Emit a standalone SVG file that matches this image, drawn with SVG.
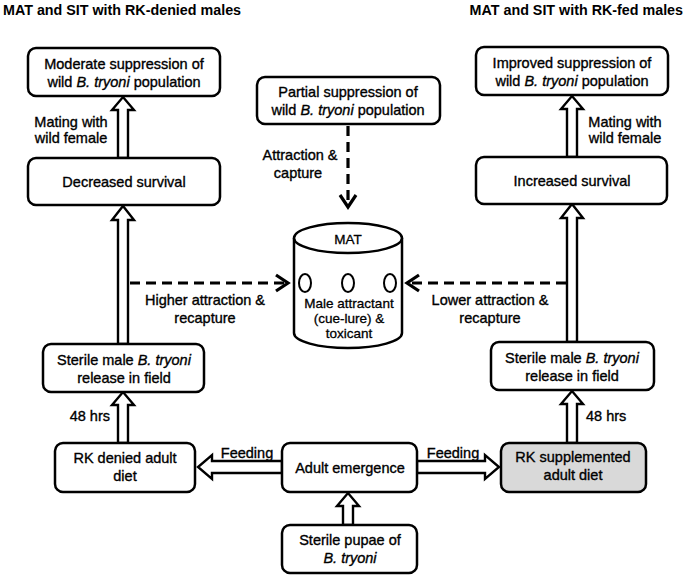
<svg xmlns="http://www.w3.org/2000/svg" width="685" height="576" viewBox="0 0 685 576">
<defs>
<style>
text{font-family:"Liberation Sans",Arial,sans-serif;fill:#000}
.t{font-size:14.5px;text-anchor:middle;stroke:#000;stroke-width:0.35}
.s{font-size:13.5px;text-anchor:middle;stroke:#000;stroke-width:0.3}
.h{font-size:14.3px;font-weight:bold}
.box{fill:#fff;stroke:#000;stroke-width:2.5}
.grey{fill:#d9d9d9}
.blk{fill:#fff;stroke:#000;stroke-width:2.4;stroke-linejoin:miter}
.dash{fill:none;stroke:#000;stroke-width:3.2;stroke-dasharray:10 6}
.chev{fill:none;stroke:#000;stroke-width:3.2;stroke-linejoin:miter}
</style>
</defs>
<rect width="685" height="576" fill="#fff"/>
<text class="h" x="3" y="15">MAT and SIT with RK-denied males</text>
<text class="h" x="683" y="15" text-anchor="end">MAT and SIT with RK-fed males</text>

<g id="connectors">
<polygon class="blk" points="118,158 118,110 112,110 123,97 134,110 128,110 128,158"/>
<polygon class="blk" points="118,344 118,220 112,220 123,206 134,220 128,220 128,344"/>
<polygon class="blk" points="118,443 118,405 112,405 123,392 134,405 128,405 128,443"/>
<polygon class="blk" points="567,157 567,109 561,109 572,96 583,109 577,109 577,157"/>
<polygon class="blk" points="567,342 567,218 561,218 572,204 583,218 577,218 577,342"/>
<polygon class="blk" points="567,443 567,404 561,404 572,391 583,404 577,404 577,443"/>
<polygon class="blk" points="343,525 343,506 337,506 348,493 359,506 353,506 353,525"/>
<polygon class="blk" points="282,461 212,461 212,455 198,467 212,479 212,473 282,473"/>
<polygon class="blk" points="417,461 485,461 485,455 499,467 485,479 485,473 417,473"/>
<line class="dash" x1="348" y1="126" x2="348" y2="205"/>
<polyline class="chev" points="340,195 348,207 356,195"/>
<line class="dash" x1="130" y1="283" x2="285" y2="283"/>
<polyline class="chev" points="276,275 288,283 276,291"/>
<line class="dash" x1="566" y1="283" x2="410" y2="283"/>
<polyline class="chev" points="419,275 407,283 419,291"/>
</g>

<g id="moderate"><rect class="box" x="28" y="48" width="192" height="48" rx="8"/>
<text class="t" x="124" y="69">Moderate suppression of</text>
<text class="t" x="124" y="87">wild <tspan font-style="italic">B. tryoni</tspan> population</text></g>

<g id="partial"><rect class="box" x="257" y="77" width="183" height="47" rx="8"/>
<text class="t" x="348" y="97">Partial suppression of</text>
<text class="t" x="348" y="115">wild <tspan font-style="italic">B. tryoni</tspan> population</text></g>

<g id="improved"><rect class="box" x="476" y="47" width="192" height="48" rx="8"/>
<text class="t" x="572" y="68">Improved suppression of</text>
<text class="t" x="572" y="86">wild <tspan font-style="italic">B. tryoni</tspan> population</text></g>

<g id="decreased"><rect class="box" x="28" y="158" width="192" height="47" rx="8"/>
<text class="t" x="124" y="187">Decreased survival</text></g>

<g id="increased"><rect class="box" x="476" y="157" width="191" height="47" rx="8"/>
<text class="t" x="572" y="186">Increased survival</text></g>

<g id="mat">
<path class="box" d="M294,238 L294,333 A54,15 0 0 0 402,333 L402,238"/>
<ellipse class="box" cx="348" cy="238" rx="54" ry="15"/>
<text class="s" x="348" y="244">MAT</text>
<ellipse fill="#fff" stroke="#000" stroke-width="2" cx="305" cy="283" rx="6" ry="9"/>
<ellipse fill="#fff" stroke="#000" stroke-width="2" cx="348" cy="283" rx="6" ry="9"/>
<ellipse fill="#fff" stroke="#000" stroke-width="2" cx="390" cy="283" rx="6" ry="9"/>
<text class="s" x="349" y="308">Male attractant</text>
<text class="s" x="349" y="323">(cue-lure) &amp;</text>
<text class="s" x="349" y="338">toxicant</text>
</g>

<g id="sterile-left"><rect class="box" x="43" y="344" width="161" height="48" rx="8"/>
<text class="t" x="124" y="365">Sterile male <tspan font-style="italic">B. tryoni</tspan></text>
<text class="t" x="124" y="383">release in field</text></g>

<g id="sterile-right"><rect class="box" x="491" y="342" width="163" height="48" rx="8"/>
<text class="t" x="572" y="363">Sterile male <tspan font-style="italic">B. tryoni</tspan></text>
<text class="t" x="572" y="381">release in field</text></g>

<g id="rk-denied"><rect class="box" x="55" y="443" width="140" height="49" rx="8"/>
<text class="t" x="125" y="463">RK denied adult</text>
<text class="t" x="125" y="481">diet</text></g>

<g id="adult"><rect class="box" x="282" y="443" width="135" height="49" rx="8"/>
<text class="t" x="350" y="473">Adult emergence</text></g>

<g id="rk-supp"><rect class="box grey" x="501" y="443" width="145" height="49" rx="8"/>
<text class="t" x="573" y="462">RK supplemented</text>
<text class="t" x="573" y="480">adult diet</text></g>

<g id="pupae"><rect class="box" x="282" y="525" width="135" height="48" rx="8"/>
<text class="t" x="350" y="545">Sterile pupae of</text>
<text class="t" x="350" y="563" font-style="italic">B. tryoni</text></g>

<g id="labels">
<text class="t" x="71" y="127">Mating with</text>
<text class="t" x="71" y="143">wild female</text>
<text class="t" x="625" y="127">Mating with</text>
<text class="t" x="625" y="143">wild female</text>
<text class="t" x="300" y="160">Attraction &amp;</text>
<text class="t" x="298" y="178">capture</text>
<text class="t" x="205" y="305">Higher attraction &amp;</text>
<text class="t" x="205" y="323">recapture</text>
<text class="t" x="490" y="305">Lower attraction &amp;</text>
<text class="t" x="490" y="323">recapture</text>
<text class="t" x="110" y="421" style="text-anchor:end">48 hrs</text>
<text class="t" x="586" y="421" style="text-anchor:start">48 hrs</text>
<text class="t" x="247" y="458">Feeding</text>
<text class="t" x="453" y="458">Feeding</text>
</g>
</svg>
